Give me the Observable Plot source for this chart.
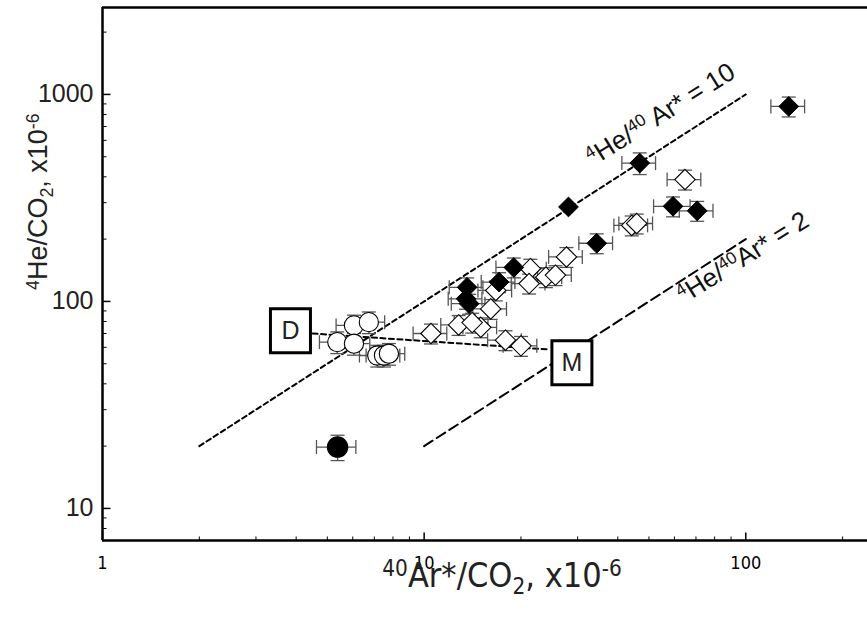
<!DOCTYPE html>
<html><head><meta charset="utf-8">
<script src="https://cdn.jsdelivr.net/npm/d3@7"></script>
<script src="https://cdn.jsdelivr.net/npm/@observablehq/plot@0.6"></script>
<style>body{margin:0;background:#fff} svg{display:block}</style>
</head><body><div id="chart"></div>
<script>
// ---- data ----
const xTickLabels = [1, 10, 100];
const xMinorTicks = [2,3,4,5,6,7,8,9,20,30,40,50,60,70,80,90,200];
const yTickLabels = [10, 100, 1000];
const yMinorTicks = [8,9,20,30,40,50,60,70,80,90,200,300,400,500,600,700,800,900,2000];

// filled diamonds
const fdX  = [136, 46.8, 28.1, 59.4, 70.6, 34.4, 19.0, 17.1, 13.6, 13.5, 13.8];
const fdY  = [875, 466, 286, 288, 274, 191, 146, 124, 117, 103, 97.5];
const fdEx = [0.12, 0.12, 0, 0.13, 0.12, 0.12, 0.12, 0.12, 0.12, 0.12, 0.12];
const fdEy = [0.11, 0.12, 0, 0.11, 0.11, 0.11, 0.11, 0.11, 0.11, 0.11, 0.11];
// open diamonds
const odX  = [64.7, 44.2, 45.8, 27.7, 21.4, 23.9, 25.6, 21.2, 16.7, 16.1, 12.8, 15.0, 14.1, 17.9, 20.0, 10.5];
const odY  = [388, 233, 238, 164, 144, 131, 134, 122, 113, 92, 77, 75, 79, 65, 61, 70];
const odEx = [0.12,0.12,0.12,0.12,0.12,0.12,0.12,0.12,0.12,0.12,0.12,0.12,0.12,0.12,0.12,0.12];
const odEy = [0.11,0.11,0.11,0.11,0.11,0.11,0.11,0.11,0.11,0.11,0.11,0.11,0.11,0.11,0.11,0.11];
// open circles
const ocX  = [6.05, 6.73, 5.37, 6.05, 7.15, 7.50, 7.77];
const ocY  = [76.6, 79.4, 63.6, 62.5, 54.8, 54.8, 55.9];
const ocEx = [0.12,0.12,0.12,0.12,0.12,0.12,0.12];
const ocEy = [0.12,0.12,0.12,0.12,0.12,0.12,0.12];
// filled circle
const fcX  = [5.38];
const fcY  = [19.8];
const fcEx = [0.14];
const fcEy = [0.14];

// reference ratio lines 4He/40Ar* = 10 and = 2
const ratio10X = [2, 100];
const ratio10Y = [20, 1000];
const ratio2X  = [10, 100];
const ratio2Y  = [20, 200];
// mixing line between end-members D and M
const mixX = [4.5, 24.5];
const mixY = [70, 58.6];
const endLabels = ["D", "M"];
const endX = [3.84, 28.8];
const endY = [72.2, 50.5];
const ratioLabels = ["^{4}He/^{40} Ar* = 10", "^{4}He/^{40}Ar* = 2"];
const ratioLabelX = [54.4, 98];
const ratioLabelY = [800, 163];

// ---- build tables ----
const pts = [];
function add(group, X, Y, EX, EY) { X.forEach((x, i) => pts.push({group, x, y: Y[i], ex: EX[i], ey: EY[i]})); }
add("fd", fdX, fdY, fdEx, fdEy);
add("od", odX, odY, odEx, odEy);
add("oc", ocX, ocY, ocEx, ocEy);
add("fc", fcX, fcY, fcEx, fcEy);
const errPts = pts.filter(d => d.ex > 0);
const ends = endLabels.map((t, i) => ({t, x: endX[i], y: endY[i]}));
const rlab = ratioLabels.map((t, i) => ({t, x: ratioLabelX[i], y: ratioLabelY[i]}));

// ---- custom symbols ----
const capV = {draw(c) { c.moveTo(0, -7); c.lineTo(0, 7); }};
const capH = {draw(c) { c.moveTo(-7, 0); c.lineTo(7, 0); }};
const tickUp = (l) => ({draw(c) { c.moveTo(0, 0); c.lineTo(0, -l); }});
const tickRight = (l) => ({draw(c) { c.moveTo(0, 0); c.lineTo(l, 0); }});
const box = {draw(c) { c.rect(-20, -22, 40, 44); }};

const narrow = "'Liberation Sans Narrow', 'DejaVu Sans Condensed', 'Liberation Sans', Arial, sans-serif";
const errColor = "#555";

const plot = Plot.plot({
  width: 867, height: 621,
  marginLeft: 102, marginRight: 0, marginTop: 7, marginBottom: 81,
  style: {fontFamily: "'Liberation Sans', Arial, Helvetica, sans-serif", background: "white", color: "black"},
  x: {type: "log", domain: [1, 239], axis: null},
  y: {type: "log", domain: [7, 2630], axis: null},
  marks: [
    // reference lines
    Plot.line(ratio10X.map((x, i) => ({x, y: ratio10Y[i]})), {x: "x", y: "y", stroke: "black", strokeWidth: 2, strokeDasharray: "5,3.5"}),
    Plot.line(ratio2X.map((x, i) => ({x, y: ratio2Y[i]})), {x: "x", y: "y", stroke: "black", strokeWidth: 2, strokeDasharray: "10,5"}),
    Plot.line(mixX.map((x, i) => ({x, y: mixY[i]})), {x: "x", y: "y", stroke: "black", strokeWidth: 2, strokeDasharray: "5,3.5"}),
    // error bars
    Plot.link(errPts, {x1: d => d.x * (1 - d.ex), x2: d => d.x * (1 + d.ex), y1: "y", y2: "y", stroke: errColor, strokeWidth: 1.3}),
    Plot.link(errPts, {x1: "x", x2: "x", y1: d => d.y * (1 - d.ey), y2: d => d.y * (1 + d.ey), stroke: errColor, strokeWidth: 1.3}),
    Plot.dot(errPts, {x: d => d.x * (1 - d.ex), y: "y", symbol: capV, fill: "none", stroke: errColor, strokeWidth: 1.3}),
    Plot.dot(errPts, {x: d => d.x * (1 + d.ex), y: "y", symbol: capV, fill: "none", stroke: errColor, strokeWidth: 1.3}),
    Plot.dot(errPts, {x: "x", y: d => d.y * (1 - d.ey), symbol: capH, fill: "none", stroke: errColor, strokeWidth: 1.3}),
    Plot.dot(errPts, {x: "x", y: d => d.y * (1 + d.ey), symbol: capH, fill: "none", stroke: errColor, strokeWidth: 1.3}),
    // markers
    Plot.dot(pts.filter(d => d.group === "oc"), {x: "x", y: "y", r: 9.6, fill: "white", stroke: "black", strokeWidth: 1.1}),
    Plot.dot(pts.filter(d => d.group === "od"), {x: "x", y: "y", symbol: "diamond2", r: 9.2, fill: "white", stroke: "black", strokeWidth: 1.1}),
    Plot.dot(pts.filter(d => d.group === "fd"), {x: "x", y: "y", symbol: "diamond2", r: 8.9, fill: "black", stroke: "black", strokeWidth: 1}),
    Plot.dot(pts.filter(d => d.group === "fc"), {x: "x", y: "y", r: 10, fill: "black", stroke: "black"}),
    // end-member boxes
    Plot.dot(ends, {x: "x", y: "y", symbol: box, fill: "white", stroke: "black", strokeWidth: 3}),
    Plot.text(ends, {x: "x", y: "y", text: "t", fontSize: 25, fill: "#222"}),
    // ratio labels
    Plot.text(rlab, {x: "x", y: "y", text: "t", fontSize: 26, rotate: -32, fill: "#111"}),
    // frame
    Plot.ruleX([1], {stroke: "black", strokeWidth: 2.5}),
    Plot.ruleY([7], {stroke: "black", strokeWidth: 2.5}),
    Plot.ruleY([2630], {stroke: "black", strokeWidth: 2.5}),
    // ticks
    Plot.dot(xTickLabels, {x: d => d, frameAnchor: "bottom", symbol: tickUp(8), fill: "none", stroke: "black", strokeWidth: 1.5}),
    Plot.dot(xMinorTicks, {x: d => d, frameAnchor: "bottom", symbol: tickUp(4), fill: "none", stroke: "black", strokeWidth: 1}),
    Plot.dot(yTickLabels, {y: d => d, frameAnchor: "left", symbol: tickRight(8), fill: "none", stroke: "black", strokeWidth: 1.5}),
    Plot.dot(yMinorTicks, {y: d => d, frameAnchor: "left", symbol: tickRight(4), fill: "none", stroke: "black", strokeWidth: 1}),
    // tick labels
    Plot.text(xTickLabels, {x: d => d, frameAnchor: "bottom", dy: 28, text: d => String(d), fontSize: 18, fontFamily: narrow}),
    Plot.text(yTickLabels, {y: d => d, frameAnchor: "left", dx: -9, textAnchor: "end", text: d => String(d), fontSize: 25, fill: "#222"}),
    // axis titles
    Plot.text(["^{40}Ar*/CO_{2}, x10^{-6}"], {frameAnchor: "bottom", dx: 17, dy: 46, text: d => d, fontSize: 34, fontFamily: narrow, fill: "#222"}),
    Plot.text(["^{4}He/CO_{2}, x10^{-6}"], {frameAnchor: "left", dx: -64, dy: 16, rotate: -90, text: d => d, fontSize: 27, fill: "#222"})
  ]
});
document.getElementById("chart").appendChild(plot);

// superscript / subscript markup -> tspans
plot.querySelectorAll("text").forEach(t => {
  const s = t.textContent;
  if (!/[\^_]\{/.test(s)) return;
  const fs = parseFloat(getComputedStyle(t).fontSize) || 20;
  t.textContent = "";
  let shift = 0;
  for (const part of s.split(/(\^\{[^}]*\}|_\{[^}]*\})/)) {
    if (!part) continue;
    const ts = document.createElementNS("http://www.w3.org/2000/svg", "tspan");
    let target = 0, txt = part, small = false;
    if (part.startsWith("^{")) { target = -0.32 * fs; txt = part.slice(2, -1); small = true; }
    else if (part.startsWith("_{")) { target = 0.22 * fs; txt = part.slice(2, -1); small = true; }
    ts.setAttribute("dy", (target - shift).toFixed(2));
    shift = target;
    if (small) ts.setAttribute("font-size", (0.66 * fs).toFixed(1));
    ts.textContent = txt;
    t.appendChild(ts);
  }
});
</script>
</body></html>
